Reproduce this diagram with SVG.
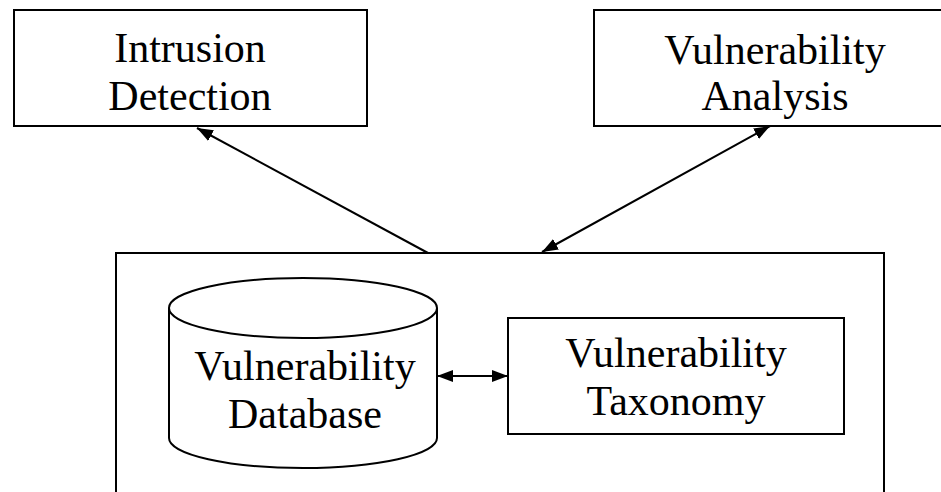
<svg xmlns="http://www.w3.org/2000/svg" width="941" height="492" viewBox="0 0 941 492">
  <style>
    .box { fill: #fff; stroke: #000; stroke-width: 2; }
    .label { font-family: "Liberation Serif", "Times New Roman", serif; font-size: 42px; fill: #000; text-anchor: middle; }
    .link { fill: none; stroke: #000; stroke-width: 2; }
  </style>
  <defs>
    <marker id="head" viewBox="0 0 16 12" refX="16" refY="6" markerWidth="16" markerHeight="12" markerUnits="userSpaceOnUse" orient="auto-start-reverse">
      <path d="M0,0 L16,6 L0,12 z" fill="#000"/>
    </marker>
  </defs>
  <rect width="941" height="492" fill="#fff"/>

  <g id="intrusion-detection">
    <rect class="box" x="14" y="10" width="353" height="116"/>
    <text class="label" x="190" y="62">Intrusion</text>
    <text class="label" x="190" y="110">Detection</text>
  </g>

  <g id="vulnerability-analysis">
    <rect class="box" x="594" y="10" width="362" height="116"/>
    <text class="label" x="775" y="64">Vulnerability</text>
    <text class="label" x="775" y="110">Analysis</text>
  </g>

  <g id="vulnerability-system">
    <path class="box" d="M116,500 L116,253 L884,253 L884,500"/>
  </g>

  <g id="vulnerability-database">
    <path class="box" d="M169,308 L169,438 A134,30 0 0 0 437,438 L437,308"/>
    <ellipse class="box" cx="303" cy="308" rx="134" ry="30"/>
    <text class="label" x="305" y="380">Vulnerability</text>
    <text class="label" x="305" y="428">Database</text>
  </g>

  <g id="vulnerability-taxonomy">
    <rect class="box" x="508" y="318" width="336" height="116"/>
    <text class="label" x="676" y="367">Vulnerability</text>
    <text class="label" x="676" y="415">Taxonomy</text>
  </g>

  <g id="connectors">
    <line class="link" x1="428" y1="253" x2="197" y2="128" marker-end="url(#head)"/>
    <line class="link" x1="542" y1="252" x2="770" y2="126" marker-start="url(#head)" marker-end="url(#head)"/>
    <line class="link" x1="437" y1="376" x2="508" y2="376" marker-start="url(#head)" marker-end="url(#head)"/>
  </g>
</svg>
